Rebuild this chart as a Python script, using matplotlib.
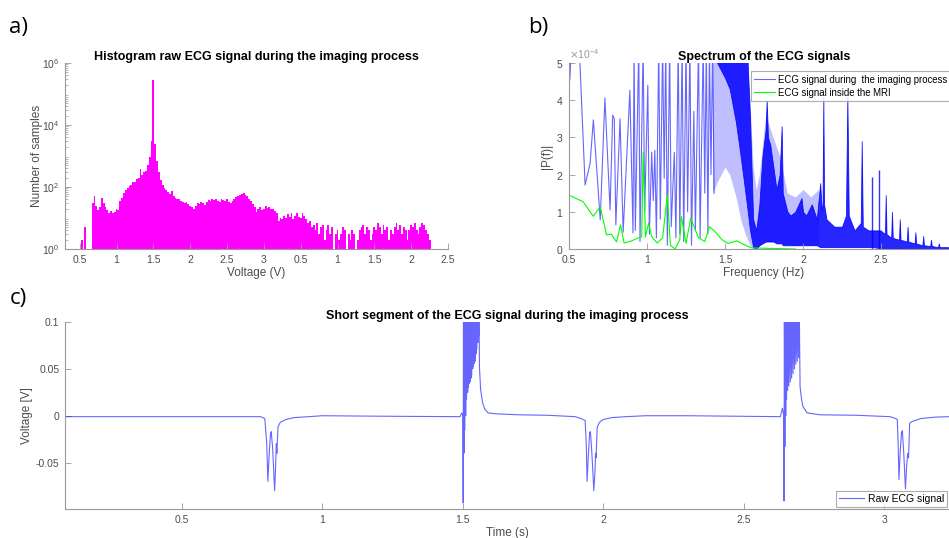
import numpy as np
import matplotlib
matplotlib.use('Agg')
from matplotlib import pyplot as plt

plt.rcParams['font.family'] = ['Liberation Sans', 'DejaVu Sans']

# ---- panel a: histogram of the raw ECG voltage (counts per bin) ----
hist_start = 0.50
hist_width = 0.025
hist_counts = [
    0, 2, 0, 5, 0, 0, 0, 30, 50, 25, 18, 22, 45, 30, 22, 18, 15, 17, 14, 16,
    20, 18, 35, 45, 65, 80, 95, 110, 120, 140, 150, 180, 200, 380, 250, 300, 330, 500, 900, 3000,
    280000, 2500, 700, 300, 170, 120, 95, 80, 70, 60, 75, 50, 45, 40, 42, 36, 34, 30, 32, 28,
    24, 22, 20, 24, 30, 28, 34, 30, 27, 32, 38, 35, 42, 38, 40, 36, 34, 42, 38, 36,
    40, 33, 30, 36, 42, 48, 52, 55, 58, 62, 55, 50, 42, 35, 28, 22, 16, 19, 22, 18,
    20, 24, 21, 23, 19, 20, 17, 14, 8, 10, 9, 12, 10, 13, 11, 14, 9, 12, 15, 11,
    10, 14, 12, 9, 7, 8, 5, 6, 4, 7, 3, 5, 6, 2, 4, 6, 3, 5, 1, 3,
    4, 2, 3, 5, 4, 1, 3, 2, 4, 3, 1, 2, 4, 5, 6, 3, 5, 4, 2, 3,
    5, 4, 7, 5, 3, 6, 4, 5, 2, 4, 3, 5, 7, 4, 6, 3, 5, 4, 2, 4,
    6, 5, 7, 4, 3, 5, 7, 6, 4, 3, 2]
hist_ticks = [0.5, 1, 1.5, 2, 2.5, 3, 3.5, 4, 4.5, 5, 5.5]
hist_ticklabels = ['0.5', '1', '1.5', '2', '2.5', '3', '0.5', '1', '1.5', '2', '2.5']

# ---- panel b: spectrum (amplitudes in units of 1e-4) ----
spec_f = [0.500, 0.506, 0.515, 0.565, 0.603, 0.635, 0.656, 0.700, 0.730, 0.763,
          0.780, 0.790, 0.800, 0.827, 0.847, 0.890, 0.910, 0.917, 0.925, 0.947,
          0.955, 0.975, 0.985, 1.005, 1.015, 1.030, 1.040, 1.050, 1.060, 1.075,
          1.085, 1.100, 1.110, 1.120, 1.130, 1.145, 1.155, 1.175, 1.185, 1.200,
          1.210, 1.225, 1.235, 1.250, 1.260, 1.275, 1.285, 1.300, 1.310, 1.330,
          1.340, 1.360, 1.370, 1.380, 1.390, 1.400, 1.410, 1.420, 1.430]
spec_a = [4.4, 4.6, 5.5, 5.5, 1.72, 2.3, 3.47, 0.78, 4.06, 1.05,
          3.6, 3.5, 0.65, 3.5, 0.45, 4.27, 0.43, 5.5, 0.5, 5.5,
          0.2, 5.5, 1.0, 4.4, 0.4, 2.6, 1.3, 2.65, 0.3, 5.5,
          0.8, 5.5, 1.9, 5.5, 0.1, 5.5, 0.6, 2.6, 0.3, 5.5,
          0.4, 5.5, 0.2, 5.5, 1.0, 5.5, 0.1, 3.7, 0.5, 5.5,
          0.3, 5.5, 1.5, 5.5, 0.4, 5.5, 2.0, 5.5, 1.5]
haze_f = [1.42, 1.45, 1.50, 1.53, 1.57, 1.60, 1.63, 1.66, 1.68, 1.70, 1.72,
          1.76, 1.80, 1.85, 1.90, 1.95, 2.00, 2.05, 2.10]
haze_lo = [1.5, 1.8, 2.2, 2.0, 1.4, 0.8, 0.4, 0.1, 0.0, 0.0, 0.1,
           0.2, 0.2, 0.2, 0.1, 0.1, 0.1, 0.1, 0.1]
haze_hi = [5.5, 5.5, 5.5, 5.5, 5.5, 5.5, 5.5, 4.0, 2.2, 1.6, 2.0,
           3.6, 3.1, 2.5, 1.5, 1.4, 1.6, 1.4, 1.6]
band_f = [1.45, 1.50, 1.53, 1.57, 1.60, 1.64, 1.66, 1.68, 1.70, 1.72, 1.74,
          1.76, 1.767, 1.775, 1.79, 1.81, 1.83, 1.85, 1.863, 1.87, 1.90, 1.92,
          1.95, 1.99, 2.00, 2.02, 2.056, 2.088, 2.11, 2.12, 2.125, 2.13, 2.135,
          2.15, 2.20, 2.25, 2.275, 2.284, 2.293, 2.33, 2.37, 2.376, 2.383, 2.42,
          2.44, 2.447, 2.48, 2.49, 2.497, 2.525, 2.53, 2.535, 2.565, 2.57, 2.575,
          2.615, 2.62, 2.625, 2.665, 2.67, 2.675, 2.715, 2.72, 2.725, 2.765, 2.77,
          2.775, 2.815, 2.82, 2.825, 2.865, 2.87, 2.875, 2.92, 3.00]
band_hi = [5.5, 5.5, 5.5, 5.5, 5.5, 5.5, 3.5, 0.8, 0.5, 1.2, 2.5,
           3.2, 4.0, 3.0, 2.8, 2.2, 1.6, 2.0, 3.3, 1.5, 1.0, 0.9,
           1.0, 1.37, 1.0, 0.9, 1.2, 0.8, 1.77, 1.0, 1.2, 4.1, 1.2,
           0.8, 0.6, 0.6, 0.9, 4.1, 0.9, 0.5, 0.7, 2.9, 0.6, 0.5,
           0.5, 0.5, 0.5, 0.5, 0.5, 0.4, 1.45, 0.4, 0.3, 1.0, 0.3,
           0.25, 0.8, 0.25, 0.2, 0.6, 0.2, 0.15, 0.45, 0.15, 0.1, 0.35,
           0.1, 0.08, 0.25, 0.08, 0.05, 0.15, 0.05, 0.05, 0.02]
band_lo = [5.0, 4.6, 4.3, 3.4, 2.5, 1.2, 0.5, 0.05, 0.0, 0.1, 0.15,
           0.2, 0.2, 0.2, 0.2, 0.2, 0.15, 0.15, 0.15, 0.1, 0.1, 0.1,
           0.1, 0.1, 0.1, 0.1, 0.1, 0.1, 0.05, 0.05, 0.05, 0.05, 0.05,
           0.05, 0.05, 0.05, 0.05, 0.05, 0.05, 0.05, 0.05, 0.05, 0.05, 0.05,
           0.05, 0.05, 0.03, 0.03, 0.03, 0.02, 0.02, 0.02, 0.02, 0.02, 0.02,
           0.0, 0.0, 0.0, 0.0, 0.0, 0.0, 0.0, 0.0, 0.0, 0.0, 0.0,
           0.0, 0.0, 0.0, 0.0, 0.0, 0.0, 0.0, 0.0, 0.0]
# the two thin spikes that stand out of the 2.4-2.5 Hz cluster
peak_f = [2.44, 2.49]
peak_a = [1.94, 2.12]
mri_f = [0.50, 0.59, 0.655, 0.70, 0.74, 0.77, 0.805, 0.83, 0.853, 0.89, 0.94,
         0.966, 0.975, 0.99, 1.01, 1.03, 1.065, 1.10, 1.13, 1.15, 1.18, 1.21,
         1.22, 1.25, 1.28, 1.33, 1.37, 1.40, 1.44, 1.48, 1.52, 1.575, 1.62,
         1.67, 1.75, 1.85, 1.95]
mri_a = [1.45, 1.27, 0.88, 1.13, 0.38, 0.40, 0.19, 0.65, 0.16, 0.2, 0.29,
         0.33, 2.6, 0.32, 0.7, 0.33, 0.16, 0.3, 1.45, 0.1, 0.0, 0.25,
         0.87, 0.15, 0.83, 0.3, 0.2, 0.6, 0.45, 0.25, 0.15, 0.22, 0.12,
         0.03, 0.02, 0.01, 0.0]

# ---- panel c: short ECG segment ----
ecg_t = [0.084, 0.780, 0.795, 0.802, 0.806, 0.810, 0.815, 0.818, 0.823, 0.830,
         0.834, 0.836, 0.838, 0.842, 0.850, 0.870, 0.900, 0.950, 1.000, 1.200,
         1.490, 1.496, 1.500, 1.501, 1.502, 1.504, 1.505, 1.507, 1.509, 1.510,
         1.511, 1.513, 1.515, 1.517, 1.518, 1.519, 1.521, 1.523, 1.524, 1.525,
         1.527, 1.529, 1.530, 1.531, 1.533, 1.535, 1.536, 1.537, 1.539, 1.541,
         1.542, 1.543, 1.545, 1.547, 1.548, 1.549, 1.551, 1.553, 1.554, 1.556,
         1.557, 1.559, 1.563, 1.570, 1.578, 1.590, 1.620, 1.700, 1.800, 1.900,
         1.920, 1.935, 1.939, 1.942, 1.946, 1.951, 1.954, 1.959, 1.966, 1.970,
         1.972, 1.974, 1.978, 1.986, 2.000, 2.030, 2.080, 2.150, 2.300, 2.630,
         2.637, 2.642, 2.643, 2.644, 2.646, 2.647, 2.649, 2.650, 2.652, 2.654,
         2.656, 2.658, 2.660, 2.662, 2.665, 2.667, 2.670, 2.672, 2.675, 2.677,
         2.680, 2.682, 2.685, 2.687, 2.690, 2.692, 2.695, 2.697, 2.700, 2.705,
         2.710, 2.725, 2.770, 2.900, 3.020, 3.040, 3.046, 3.049, 3.052, 3.056,
         3.061, 3.064, 3.069, 3.075, 3.079, 3.083, 3.086, 3.090, 3.100, 3.130,
         3.180, 3.230]
ecg_v = [-0.001, -0.001, -0.003, -0.030, -0.070, -0.045, -0.020, -0.017, -0.035, -0.080,
         -0.050, -0.030, -0.040, -0.012, -0.007, -0.004, -0.002, -0.001, 0.000, -0.0005,
         -0.001, 0.003, 0.000, -0.093, 0.120, -0.040, 0.120, -0.015, 0.120, 0.000,
         0.120, 0.017, 0.120, 0.025, 0.120, 0.030, 0.120, 0.034, 0.120, 0.036,
         0.120, 0.040, 0.120, 0.043, 0.120, 0.050, 0.120, 0.053, 0.120, 0.056,
         0.120, 0.058, 0.120, 0.066, 0.120, 0.071, 0.120, 0.078, 0.120, 0.085,
         0.120, 0.052, 0.028, 0.014, 0.007, 0.003, 0.002, 0.001, 0.0005, -0.001,
         -0.003, -0.005, -0.030, -0.070, -0.045, -0.018, -0.017, -0.040, -0.080, -0.060,
         -0.040, -0.045, -0.012, -0.007, -0.004, -0.002, -0.001, 0.000, 0.000, -0.001,
         0.008, 0.000, -0.091, 0.120, -0.033, 0.120, 0.000, 0.120, 0.017, 0.120,
         0.027, 0.120, 0.032, 0.120, 0.036, 0.120, 0.040, 0.120, 0.045, 0.120,
         0.050, 0.120, 0.055, 0.120, 0.058, 0.120, 0.062, 0.120, 0.031, 0.018,
         0.010, 0.003, 0.001, 0.0005, -0.001, -0.003, -0.004, -0.030, -0.068, -0.040,
         -0.018, -0.016, -0.040, -0.078, -0.055, -0.040, -0.045, -0.008, -0.006, -0.003,
         -0.0015, -0.001]

axcol = '#9a9a9a'
txtcol = '#4d4d4d'


def matlab_axes(ax):
    ax.spines['top'].set_visible(False)
    ax.spines['right'].set_visible(False)
    for s in ['left', 'bottom']:
        ax.spines[s].set_color(axcol)
        ax.spines[s].set_linewidth(0.8)
    ax.tick_params(direction='in', colors=axcol, labelcolor=txtcol, labelsize=7.5,
                   length=4, width=0.6, pad=4)
    ax.tick_params(which='minor', direction='in', colors=axcol, length=2, width=0.5)


fig = plt.figure(figsize=(9.49, 5.38), dpi=100)

# panel a
ax1 = fig.add_axes([0.0685, 0.5372, 0.4036, 0.3457])
ax1.set_yscale('log')
centers = [hist_start + i * hist_width for i in range(len(hist_counts))]
ax1.bar(centers, hist_counts, width=hist_width, color='#ff00ff', linewidth=0)
ax1.set_ylim(1, 1e6)
ax1.set_xlim(0.3, 5.5)
ax1.set_yticks([1, 1e2, 1e4, 1e6])
ax1.set_xticks(hist_ticks)
ax1.set_xticklabels(hist_ticklabels)
matlab_axes(ax1)
ax1.set_xlabel('Voltage (V)', fontsize=8.5, color=txtcol, labelpad=2)
ax1.set_ylabel('Number of samples', fontsize=8.5, color=txtcol, labelpad=-1)
ax1.set_title('Histogram raw ECG signal during the imaging process',
              fontsize=9, fontweight='bold', pad=2)

# panel b
ax2 = fig.add_axes([0.5996, 0.5372, 0.411, 0.3457])
sc = 1e-4
ax2.fill_between(haze_f, np.array(haze_lo) * sc, np.array(haze_hi) * sc,
                 color='#0000ff', alpha=0.25, linewidth=0)
ax2.plot(spec_f, np.array(spec_a) * sc, color='#0000ff', alpha=0.6, lw=0.8,
         label='ECG signal during  the imaging process')
ax2.fill_between(band_f, np.array(band_lo) * sc, np.array(band_hi) * sc,
                 color='#0000ff', alpha=0.85, linewidth=0.6, edgecolor='#0000ff')
ax2.vlines(peak_f, 0, np.array(peak_a) * sc, color='#0000ff', lw=1.0, alpha=0.8)
ax2.plot(mri_f, np.array(mri_a) * sc, color='#00ff00', lw=0.8,
         label='ECG signal inside the MRI')
ax2.set_xlim(0.5, 3.0)
ax2.set_ylim(0, 5e-4)
ax2.set_xticks([0.5, 1, 1.5, 2, 2.5])
ax2.set_xticklabels(['0.5', '1', '1.5', '2', '2.5'])
ax2.set_yticks([0, 1e-4, 2e-4, 3e-4, 4e-4, 5e-4])
ax2.ticklabel_format(axis='y', style='sci', scilimits=(-4, -4), useMathText=True)
ax2.yaxis.get_offset_text().set_fontsize(7.5)
ax2.yaxis.get_offset_text().set_color(txtcol)
matlab_axes(ax2)
ax2.set_xlabel('Frequency (Hz)', fontsize=8.5, color=txtcol, labelpad=2)
ax2.set_ylabel('|P(f)|', fontsize=8.5, color=txtcol, labelpad=2)
ax2.set_title('Spectrum of the ECG signals', fontsize=9, fontweight='bold', pad=2)
leg = ax2.legend(loc='upper left', bbox_to_anchor=(0.466, 0.955), fontsize=6.9,
                 frameon=True, fancybox=False, borderpad=0.35, handlelength=2.2,
                 handletextpad=0.3, labelspacing=0.3, borderaxespad=0)
leg.get_frame().set_edgecolor(axcol)
leg.get_frame().set_linewidth(0.8)

# panel c
ax3 = fig.add_axes([0.0685, 0.0539, 0.9315, 0.3476])
ax3.plot(ecg_t, ecg_v, color='#0000ff', alpha=0.6, lw=0.8, label='Raw ECG signal')
ax3.set_xlim(0.084, 3.23)
ax3.set_ylim(-0.0995, 0.1)
ax3.set_xticks([0.5, 1, 1.5, 2, 2.5, 3])
ax3.set_xticklabels(['0.5', '1', '1.5', '2', '2.5', '3'])
ax3.set_yticks([-0.05, 0, 0.05, 0.1])
ax3.set_yticklabels(['-0.05', '0', '0.05', '0.1'])
matlab_axes(ax3)
ax3.set_xlabel('Time (s)', fontsize=8.5, color=txtcol, labelpad=2)
ax3.set_ylabel('Voltage [V]', fontsize=8.5, color=txtcol, labelpad=2)
ax3.set_title('Short segment of the ECG signal during the imaging process',
              fontsize=9, fontweight='bold', pad=1)
leg3 = ax3.legend(loc='lower right', fontsize=7.5, frameon=True, fancybox=False,
                  borderpad=0.3, handlelength=2.4, handletextpad=0.3, borderaxespad=0.2)
leg3.get_frame().set_edgecolor(axcol)
leg3.get_frame().set_linewidth(0.8)

# panel letters
fig.text(0.010, 0.948, 'a)', fontsize=16, family=['Open Sans', 'DejaVu Sans'], va='center')
fig.text(0.557, 0.948, 'b)', fontsize=16, family=['Open Sans', 'DejaVu Sans'], va='center')
fig.text(0.010, 0.445, 'c)', fontsize=16, family=['Open Sans', 'DejaVu Sans'], va='center')

fig.savefig('out.png', dpi=100)
